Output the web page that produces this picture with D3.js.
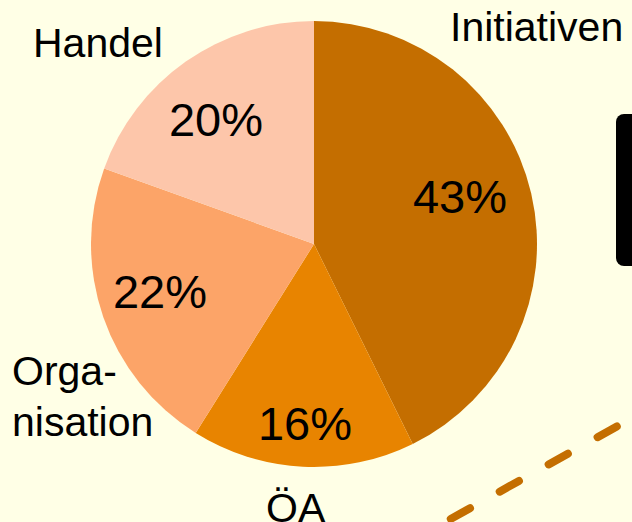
<!DOCTYPE html>
<html>
<head>
<meta charset="utf-8">
<script src="https://cdn.jsdelivr.net/npm/d3@7"></script>
<style>
  html, body { margin: 0; padding: 0; background: #FFFFE6; }
  svg { display: block; }
</style>
</head>
<body>
<svg id="chart" width="632" height="522"></svg>
<script>
// data (shares; labels show them rounded)
const categories = ["Initiativen", "ÖA", "Organisation", "Handel"];
const shares = [42.7, 16.2, 21.6, 19.5];
const colors = ["#C46E00", "#E88400", "#FCA468", "#FDC6AA"];
// outer label lines (Organisation is split over two lines)
const labelLines = [["Initiativen"], ["ÖA"], ["Orga-", "nisation"], ["Handel"]];

// layout, kept apart from the data
const cx = 314, cy = 244, radius = 223;
const pctPos = [[460, 213], [305, 440], [160, 308], [216, 136]];
const labelPos = [[450, 41], [266, 522], [12, 385], [33, 57]];

const svg = d3.select("#chart");

svg.append("rect")
  .attr("width", 632).attr("height", 522)
  .attr("fill", "#FFFFE6");

const pie = d3.pie().sort(null).value(d => d)(shares);
const arc = d3.arc().innerRadius(0).outerRadius(radius);

const g = svg.append("g").attr("transform", `translate(${cx},${cy})`);
g.selectAll("path")
  .data(pie)
  .enter()
  .append("path")
  .attr("d", arc)
  .attr("fill", (d, i) => colors[i]);

// percent labels inside slices
svg.selectAll("text.pct")
  .data(pie)
  .enter()
  .append("text")
  .attr("class", "pct")
  .attr("x", (d, i) => pctPos[i][0])
  .attr("y", (d, i) => pctPos[i][1])
  .attr("text-anchor", "middle")
  .style("font-family", "'Liberation Sans', Arial, sans-serif")
  .style("font-size", "47px")
  .attr("fill", "#000")
  .text(d => Math.round(d.data) + "%");

// category labels outside
labelLines.forEach((lines, i) => {
  const t = svg.append("text")
    .attr("x", labelPos[i][0])
    .attr("y", labelPos[i][1])
    .style("font-family", "'Liberation Sans', Arial, sans-serif")
    .style("font-size", "41px")
    .attr("fill", "#000");
  lines.forEach((s, j) => {
    t.append("tspan")
      .attr("x", labelPos[i][0])
      .attr("dy", j === 0 ? 0 : 51)
      .text(s);
  });
});

// black box partly off the right edge
svg.append("rect")
  .attr("x", 616).attr("y", 114)
  .attr("width", 40).attr("height", 152)
  .attr("rx", 8)
  .attr("fill", "#000");

// dashed connector bottom right
svg.append("line")
  .attr("x1", 650).attr("y1", 408)
  .attr("x2", 420).attr("y2", 536)
  .attr("stroke", colors[0])
  .attr("stroke-width", 8)
  .attr("stroke-linecap", "round")
  .attr("stroke-dasharray", "22,34")
  .attr("stroke-dashoffset", 18);
</script>
</body>
</html>
